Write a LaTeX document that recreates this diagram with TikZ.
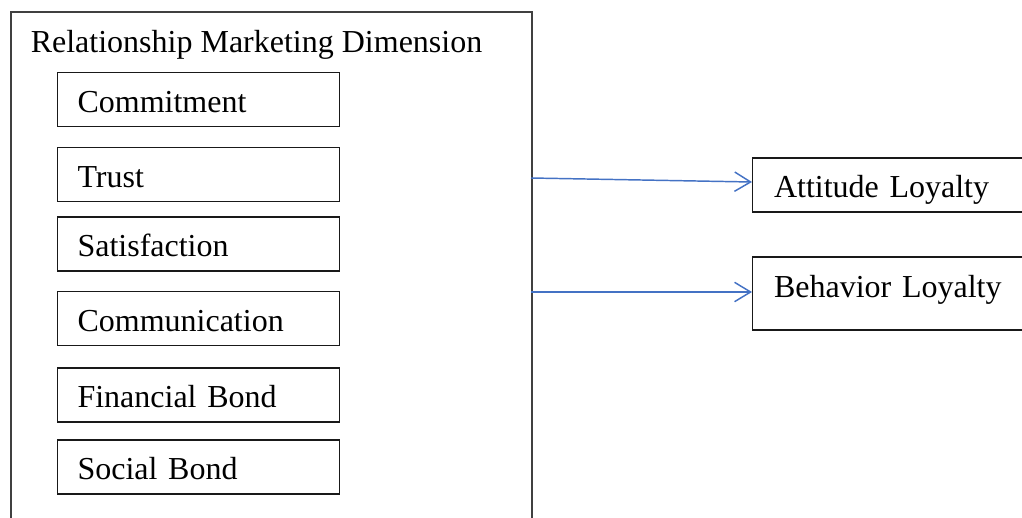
\documentclass[tikz,border=0pt]{standalone}
\usepackage{fontspec}
\setmainfont{Liberation Serif}
\usetikzlibrary{arrows.meta}
\definecolor{arrowblue}{HTML}{4472C4}
\definecolor{framegray}{HTML}{404040}
\begin{document}
\begin{tikzpicture}[x=0.75pt,y=-0.75pt,
  every node/.style={font=\fontsize{24pt}{28pt}\selectfont},
  dimbox/.style={draw=black!90,line width=0.8pt,rectangle,anchor=west,
    minimum width=211.5pt,minimum height=40.5pt,text width=181.5pt,align=left,
    inner xsep=15pt,inner ysep=0pt,text height=20pt,text depth=1.25pt},
  loybox/.style={draw=black!90,line width=0.8pt,rectangle,anchor=west,
    minimum width=217.5pt,text width=185.25pt,align=left,
    inner xsep=16.125pt,inner ysep=0pt,text height=20pt},
  arr/.style={draw=arrowblue,line width=1.1pt,-{Straight Barb[length=12pt,width=14.5pt,line width=1.1pt]}}
]
\clip (0,0) rectangle (1022,518);
\node[draw=framegray,line width=1.3pt,anchor=north west,minimum width=390.75pt,minimum height=405pt,inner sep=0pt] (outer) at (10,11) {};
\node[anchor=base west,inner sep=0pt] (title) at (30.5,52) {Relationship Marketing Dimension};
\node[dimbox] (commit) at (57,99.5) {Commitment};
\node[dimbox] (trust) at (57,174.5) {Trust};
\node[dimbox] (satis) at (57,244) {Satisfaction};
\node[dimbox] (comm) at (57,318.5) {Communication};
\node[dimbox] (fin) at (57,395) {Financial Bond};
\node[dimbox] (soc) at (57,467) {Social Bond};
\node[loybox,minimum height=40.5pt,text depth=1.25pt] (att) at (752,185) {Attitude Loyalty};
\node[loybox,minimum height=54.75pt,text depth=14.75pt] (beh) at (752,293.5) {Behavior Loyalty};
\coordinate (o1) at (531,178);
\coordinate (o2) at (531,292);
\draw[arr] (o1) -- ([yshift=2.25pt]att.west);
\draw[arr] (o2) -- (o2 -| beh.west);
\end{tikzpicture}
\end{document}
